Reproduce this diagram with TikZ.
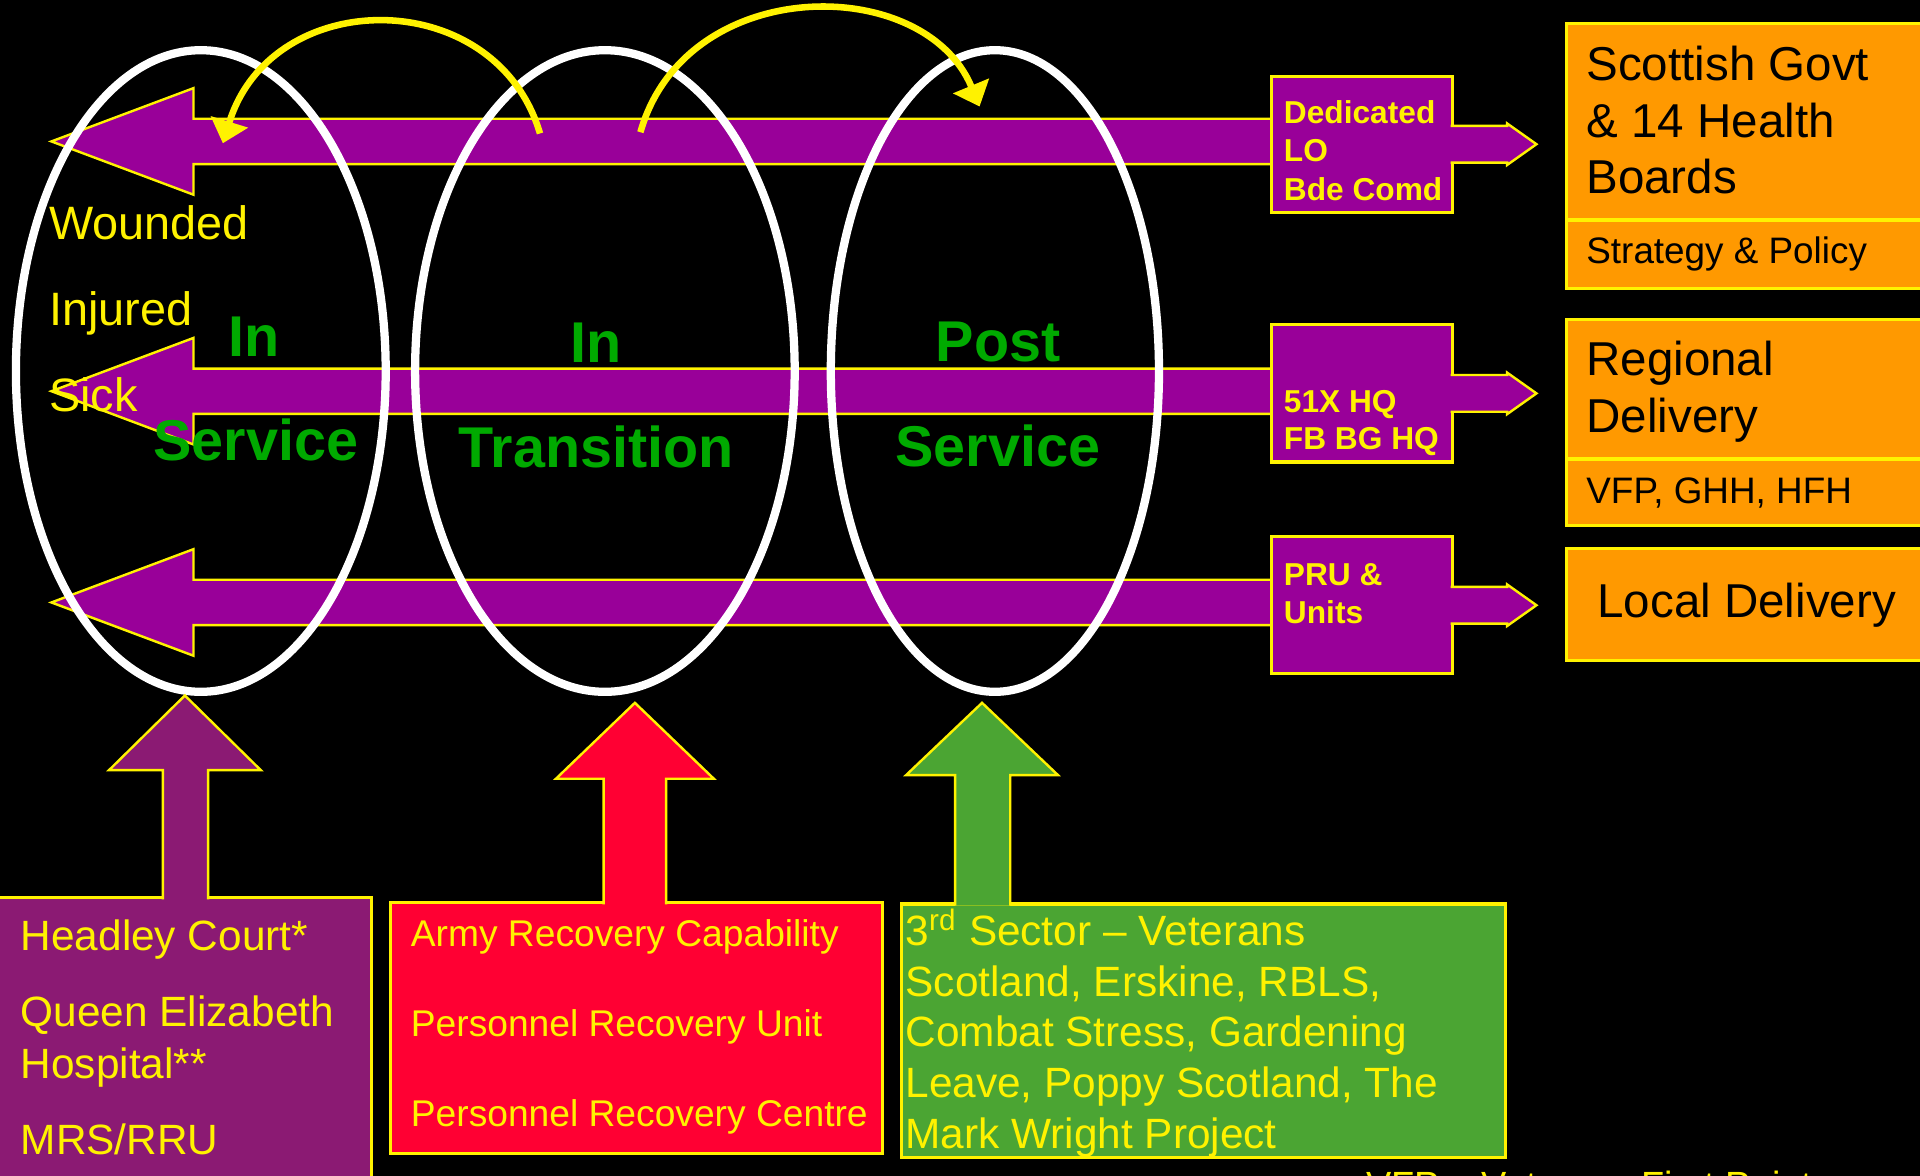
\documentclass[tikz,border=0pt]{standalone}
\usepackage{fontspec}
\setmainfont{Liberation Sans}
\usetikzlibrary{positioning,arrows.meta}

\definecolor{bandpurple}{HTML}{990099}
\definecolor{boxorange}{HTML}{FF9900}
\definecolor{stagegreen}{HTML}{00AA00}
\definecolor{medpurple}{HTML}{8B1A73}
\definecolor{armyred}{HTML}{FF0033}
\definecolor{sectorgreen}{HTML}{4BA533}

\tikzset{
  band/.style={fill=bandpurple, draw=yellow, line width=0.7pt},
  pbox/.style={fill=bandpurple, draw=yellow, line width=0.9pt, anchor=north west, inner sep=0pt},
  obox/.style={fill=boxorange, draw=yellow, line width=0.9pt, anchor=north west, inner sep=0pt},
  fbox/.style={draw=yellow, line width=0.9pt, anchor=north west, inner sep=0pt},
  lift/.style={draw=yellow, line width=0.7pt},
  ring/.style={draw=white, line width=2.4pt},
  hop/.style={draw=yellow, line width=1.9pt, -{Triangle[length=6.5pt,width=11pt]}},
  lbl/.style={anchor=base west, inner sep=0pt},
  boxtxt/.style={lbl, text=yellow, font=\fontsize{9.2}{11}\selectfont\bfseries},
  bigtxt/.style={lbl, text=black, font=\fontsize{13.8}{16}\selectfont},
  smalltxt/.style={lbl, text=black, font=\fontsize{10.7}{13}\selectfont},
  sidetxt/.style={lbl, text=yellow, font=\fontsize{13.6}{16}\selectfont},
  btxt/.style={lbl, text=yellow, font=\fontsize{12.3}{15}\selectfont},
  atxt/.style={lbl, text=yellow, font=\fontsize{10.8}{13}\selectfont},
  stage/.style={anchor=base, inner sep=0pt, text=stagegreen, font=\fontsize{16.7}{20}\selectfont\bfseries}
}

\begin{document}
\begin{tikzpicture}[x=0.0125cm, y=-0.0125cm]
\useasboundingbox (0,0) rectangle (1568,960);
\clip (0,0) rectangle (1568,960);
\fill[black] (0,0) rectangle (1568,960);

% bands
\foreach \y in {115.5, 319.5, 492}
  \draw[band] (1040,\y-18.5) -- (158,\y-18.5) -- (158,\y-43.5) -- (42,\y) -- (158,\y+43.5) -- (158,\y+18.5) -- (1040,\y+18.5);

\node[pbox, minimum width=1.85cm, minimum height=1.3875cm] (lo) at (1037,61) {};
\node[pbox, minimum width=1.85cm, minimum height=1.4cm] (hq) at (1037,264) {};
\node[pbox, minimum width=1.85cm, minimum height=1.4cm] (pru) at (1037,437) {};
\foreach \b in {lo, hq, pru}
  \draw[band] ([xshift=-1pt]\b.east) ++(0,-15) -- ++(46,0) -- ++(0,-2) -- ++(24,17) -- ++(-24,17) -- ++(0,-2) -- ++(-46,0);

\foreach \t [count=\i] in {Dedicated, LO, Bde Comd}
  \node[boxtxt] (lo\i) at (1048,{101+31.3*(\i-1)}) {\t};
\foreach \t [count=\i] in {51X HQ, FB BG HQ}
  \node[boxtxt] (hq\i) at (1048,{337+30.5*(\i-1)}) {\t};
\foreach \t [count=\i] in {PRU \&, Units}
  \node[boxtxt] (pru\i) at (1048,{478+31*(\i-1)}) {\t};

% delivery levels
\node[obox, minimum width=3.8cm, minimum height=2cm] (sg) at (1278,18) {};
\node[obox, minimum width=3.8cm, minimum height=0.6875cm] (sp) at (1278,179) {};
\node[obox, minimum width=3.8cm, minimum height=1.4125cm] (rd) at (1278,260) {};
\node[obox, minimum width=3.8cm, minimum height=0.675cm] (vfp) at (1278,374) {};
\node[obox, minimum width=3.8cm, minimum height=1.1375cm] (ld) at (1278,447) {};

\foreach \t [count=\i] in {Scottish Govt, \& 14 Health, Boards}
  \node[bigtxt] (sg\i) at (1295,{66+46*(\i-1)}) {\t};
\node[smalltxt] (sp1) at (1295,215) {Strategy \& Policy};
\foreach \t [count=\i] in {Regional, Delivery}
  \node[bigtxt] (rd\i) at (1295,{307+46*(\i-1)}) {\t};
\node[smalltxt] (vfp1) at (1295,411) {VFP, GHH, HFH};
\node[bigtxt] (ld1) at (1304,504) {Local Delivery};

% stages
\draw[ring] (164,303) ellipse [x radius=151, y radius=262];
\draw[ring] (494,303) ellipse [x radius=155, y radius=262];
\draw[ring] (812.5,303) ellipse [x radius=134, y radius=262];

\draw[hop] (441,109) .. controls (405,-13) and (222,-13) .. (182,117);
\draw[hop] (523,108) .. controls (560,-22) and (755,-22) .. (800,87);

\foreach \t/\y [count=\i] in {Wounded/196, Injured/266, Sick/336}
  \node[sidetxt] (cond\i) at (39.5,\y) {\t};

\node[stage] (in1) at (207.5,291.5) {In};
\node[stage] (svc1) at (209,376) {Service};
\node[stage] (in2) at (487,296) {In};
\node[stage] (trans) at (487,382) {Transition};
\node[stage] (post) at (815,295.5) {Post};
\node[stage] (svc2) at (815,381) {Service};

% providers
\node[fbox, fill=medpurple, minimum width=3.8375cm, minimum height=3.1cm] (med) at (-5,732) {};
\node[fbox, fill=armyred, minimum width=5.0125cm, minimum height=2.5625cm] (army) at (318,736) {};
\node[fbox, fill=sectorgreen, minimum width=6.1625cm, minimum height=2.5875cm] (third) at (735,737) {};

\draw[lift, fill=medpurple] (133,734.5) -- (133,629) -- (89,629) -- (151,568) -- (213,629) -- (170,629) -- (170,734.5);
\draw[lift, fill=armyred] (493,738.5) -- (493,636) -- (454,636) -- (518.5,574) -- (583,636) -- (544,636) -- (544,738.5);
\draw[lift, fill=sectorgreen] (780,739.5) -- (780,633) -- (740,633) -- (802,574) -- (864,633) -- (825,633) -- (825,739.5);

\node[btxt] (hc1) at (16.4,776) {Headley Court*};
\node[btxt] (hc2) at (16.4,838.5) {Queen Elizabeth};
\node[btxt] (hc3) at (16.4,880.6) {Hospital**};
\node[btxt] (hc4) at (16.4,943) {MRS/RRU};

\foreach \t [count=\i] in {Army Recovery Capability, Personnel Recovery Unit, Personnel Recovery Centre}
  \node[atxt] (ar\i) at (335,{773+73.5*(\i-1)}) {\t};

\foreach \t [count=\i] in {3\textsuperscript{rd} Sector – Veterans, {Scotland, Erskine, RBLS,}, {Combat Stress, Gardening}, {Leave, Poppy Scotland, The}, Mark Wright Project}
  \node[btxt] (ts\i) at (739,{772+41.5*(\i-1)}) {\t};

\node[lbl, text=yellow, font=\fontsize{11}{13}\selectfont] (key) at (1115,979) {VFP – Veterans First Point};
\end{tikzpicture}
\end{document}
